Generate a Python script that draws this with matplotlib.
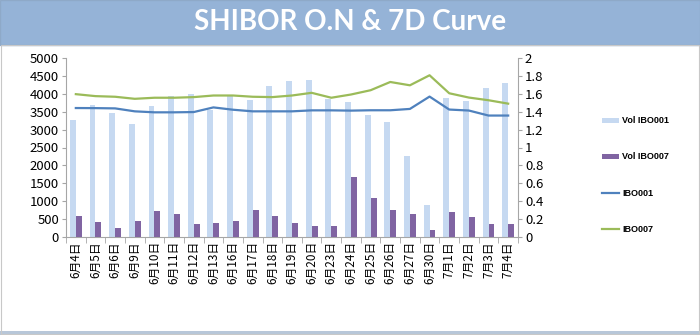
import matplotlib
matplotlib.use("Agg")
import matplotlib.pyplot as plt
import numpy as np
from matplotlib.patches import Rectangle
from matplotlib.lines import Line2D

plt.rcParams['font.family'] = ['Noto Sans CJK SC', 'DejaVu Sans']

dates = ["6月4日", "6月5日", "6月6日", "6月9日", "6月10日", "6月11日", "6月12日",
         "6月13日", "6月16日", "6月17日", "6月18日", "6月19日", "6月20日", "6月23日",
         "6月24日", "6月25日", "6月26日", "6月27日", "6月30日", "7月1日", "7月2日",
         "7月3日", "7月4日"]
vol_ibo001 = [3260, 3690, 3450, 3150, 3650, 3940, 3990, 3550, 3935, 3825, 4215, 4350,
              4380, 3860, 3775, 3410, 3225, 2265, 890, 3875, 3810, 4175, 4300]
vol_ibo007 = [575, 415, 260, 435, 730, 640, 350, 380, 435, 750, 575, 380,
              315, 295, 1665, 1085, 750, 655, 195, 700, 545, 355, 375]
ibo001 = [1.441, 1.440, 1.437, 1.404, 1.393, 1.393, 1.396, 1.448, 1.422, 1.404, 1.404, 1.404,
          1.415, 1.415, 1.412, 1.416, 1.416, 1.431, 1.569, 1.424, 1.413, 1.357, 1.357]
ibo007 = [1.596, 1.574, 1.567, 1.544, 1.556, 1.556, 1.563, 1.581, 1.581, 1.567, 1.563, 1.581,
          1.611, 1.556, 1.592, 1.640, 1.732, 1.695, 1.807, 1.606, 1.558, 1.528, 1.490]

C_LIGHT = "#C6D9F1"
C_PURPLE = "#8064A2"
C_BLUE = "#4F81BD"
C_GREEN = "#9BBB59"
C_AXIS = "#A6A6A6"

fig = plt.figure(figsize=(7, 3.35), dpi=100)

# title banner
fig.patches.append(Rectangle((0, 1 - 45 / 335), 1, 45 / 335, transform=fig.transFigure,
                             facecolor="#95B3D7", edgecolor="#8EA9C8", linewidth=1))
fig.text(0.5, 1 - 22 / 335, "SHIBOR O.N & 7D Curve", ha="center", va="center",
         color="white", fontsize=20, fontweight="bold", family=["Lato", "DejaVu Sans"])
# bottom strip and border
fig.patches.append(Rectangle((0, 0), 1, 4 / 335, transform=fig.transFigure,
                             facecolor="#B8C7D9", edgecolor="none"))
fig.patches.append(Rectangle((0.001, 0.003), 0.997, 1 - 45 / 335 - 0.003,
                             transform=fig.transFigure, facecolor="none",
                             edgecolor="#C8C8C8", linewidth=0.8))

ax = fig.add_axes([66 / 700, 1 - 237 / 335, (518 - 66) / 700, (237 - 58) / 335])
x = np.arange(len(dates))
w = 0.3
ax.bar(x - w / 2, vol_ibo001, width=w, color=C_LIGHT, zorder=2)
ax.bar(x + w / 2, vol_ibo007, width=w, color=C_PURPLE, zorder=3)
ax.set_xlim(-0.5, len(dates) - 0.5)
ax.set_ylim(0, 5000)
ax.set_yticks(range(0, 5001, 500))
ax.set_xticks(x)
ax.set_xticklabels(dates, rotation=90, fontsize=8.5)
ax.set_xticks(np.arange(-0.5, len(dates), 1), minor=True)
ax.tick_params(axis="x", which="major", length=0, pad=3)
ax.tick_params(axis="x", which="minor", length=4, color=C_AXIS)
ax.tick_params(axis="y", length=3, color=C_AXIS, labelsize=9.5, pad=2)
for s in ["top", "right"]:
    ax.spines[s].set_visible(False)
for s in ["left", "bottom"]:
    ax.spines[s].set_color(C_AXIS)

ax2 = ax.twinx()
ax2.plot(x, ibo001, color=C_BLUE, linewidth=1.6, zorder=4)
ax2.plot(x, ibo007, color=C_GREEN, linewidth=1.6, zorder=4)
ax2.set_ylim(0, 2)
ax2.set_yticks(np.arange(0, 2.01, 0.2))
ax2.set_yticklabels(["0", "0.2", "0.4", "0.6", "0.8", "1", "1.2", "1.4", "1.6", "1.8", "2"])
ax2.tick_params(axis="y", length=3, color=C_AXIS, labelsize=9.5, pad=2)
for s in ["top", "left", "bottom"]:
    ax2.spines[s].set_visible(False)
ax2.spines["right"].set_color(C_AXIS)

# legend on the right
handles = [
    Rectangle((0, 0), 1, 1, facecolor=C_LIGHT),
    Rectangle((0, 0), 1, 1, facecolor=C_PURPLE),
    Line2D([], [], color=C_BLUE, linewidth=1.6),
    Line2D([], [], color=C_GREEN, linewidth=1.6),
]
fig.legend(handles, ["Vol IBO001", "Vol IBO007", "IBO001", "IBO007"],
           loc="center left", bbox_to_anchor=(594 / 700, 1 - 175 / 335),
           frameon=False, labelspacing=3.0, handlelength=1.9, handleheight=0.5,
           handletextpad=0.3,
           prop={"family": "Liberation Sans", "weight": "bold", "size": 6.5})

fig.savefig("out.png", dpi=100)
